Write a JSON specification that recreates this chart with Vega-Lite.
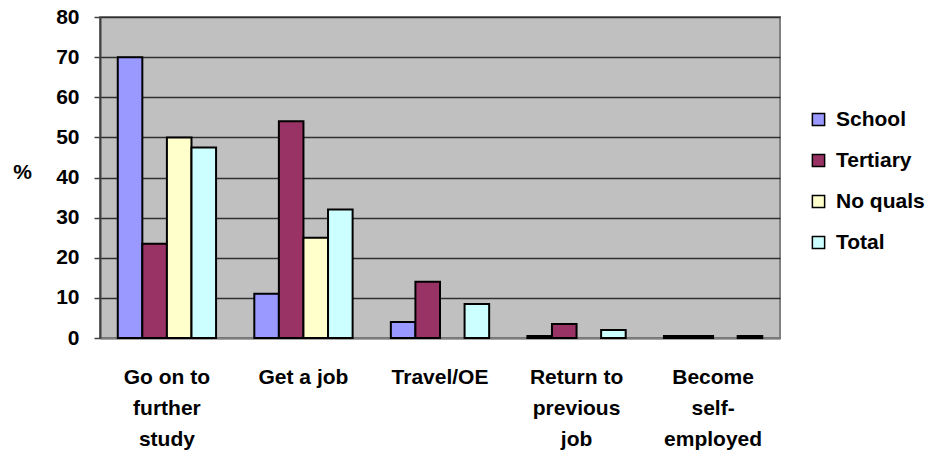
{
  "$schema": "https://vega.github.io/schema/vega-lite/v6.json",
  "autosize": "none",
  "width": 680,
  "height": 321,
  "padding": {"left": 100, "top": 17, "right": 158, "bottom": 115},
  "background": "white",
  "config": {
    "font": "Liberation Sans",
    "view": {"fill": "#C0C0C0", "stroke": "#808080", "strokeWidth": 2}
  },
  "data": {
    "values": [
      {"category": "Go on to further study", "group": "School", "value": 70},
      {"category": "Go on to further study", "group": "Tertiary", "value": 23.5},
      {"category": "Go on to further study", "group": "No quals", "value": 50},
      {"category": "Go on to further study", "group": "Total", "value": 47.5},
      {"category": "Get a job", "group": "School", "value": 11},
      {"category": "Get a job", "group": "Tertiary", "value": 54},
      {"category": "Get a job", "group": "No quals", "value": 25},
      {"category": "Get a job", "group": "Total", "value": 32},
      {"category": "Travel/OE", "group": "School", "value": 4},
      {"category": "Travel/OE", "group": "Tertiary", "value": 14},
      {"category": "Travel/OE", "group": "Total", "value": 8.5},
      {"category": "Return to previous job", "group": "School", "value": 0.5},
      {"category": "Return to previous job", "group": "Tertiary", "value": 3.5},
      {"category": "Return to previous job", "group": "Total", "value": 2},
      {"category": "Become self-employed", "group": "School", "value": 0.5},
      {"category": "Become self-employed", "group": "Tertiary", "value": 0.5},
      {"category": "Become self-employed", "group": "Total", "value": 0.5}
    ]
  },
  "mark": {"type": "bar", "stroke": "#000000", "strokeWidth": 2},
  "encoding": {
    "x": {
      "field": "category",
      "type": "nominal",
      "sort": ["Go on to further study", "Get a job", "Travel/OE", "Return to previous job", "Become self-employed"],
      "scale": {"paddingInner": 0.28, "paddingOuter": 0.13},
      "axis": {
        "title": null,
        "labelAngle": 0,
        "labelExpr": "datum.value == 'Go on to further study' ? ['Go on to', 'further', 'study'] : datum.value == 'Return to previous job' ? ['Return to', 'previous', 'job'] : datum.value == 'Become self-employed' ? ['Become', 'self-', 'employed'] : datum.value",
        "labelFont": "Liberation Sans",
        "labelFontSize": 21,
        "labelFontWeight": "bold",
        "labelColor": "#000000",
        "labelLineHeight": 31,
        "labelPadding": 28,
        "labelBaseline": "top",
        "ticks": false,
        "domainColor": "#808080",
        "domainWidth": 2
      }
    },
    "xOffset": {
      "field": "group",
      "type": "nominal",
      "sort": ["School", "Tertiary", "No quals", "Total"],
      "scale": {"paddingInner": 0, "paddingOuter": 0}
    },
    "y": {
      "field": "value",
      "type": "quantitative",
      "scale": {"domain": [0, 80], "nice": false},
      "axis": {
        "values": [0, 10, 20, 30, 40, 50, 60, 70, 80],
        "title": "%",
        "titleAngle": 0,
        "titleX": -78,
        "titleY": 155,
        "titleAlign": "center",
        "titleBaseline": "middle",
        "titleFont": "Liberation Sans",
        "titleFontSize": 21,
        "titleFontWeight": "bold",
        "titleColor": "#000000",
        "labelFont": "Liberation Sans",
        "labelFontSize": 21,
        "labelFontWeight": "bold",
        "labelColor": "#000000",
        "labelPadding": 15,
        "tickSize": 6,
        "tickColor": "#404040",
        "tickWidth": 1.5,
        "domainColor": "#404040",
        "domainWidth": 2,
        "grid": true,
        "gridColor": "#303030",
        "gridWidth": 1.5,
        "gridOpacity": 1
      }
    },
    "color": {
      "field": "group",
      "type": "nominal",
      "sort": ["School", "Tertiary", "No quals", "Total"],
      "scale": {
        "domain": ["School", "Tertiary", "No quals", "Total"],
        "range": ["#9999FF", "#993366", "#FFFFCC", "#CCFFFF"]
      },
      "legend": {
        "title": null,
        "orient": "none",
        "legendX": 708,
        "legendY": 92,
        "symbolType": "square",
        "symbolSize": 150,
        "symbolStrokeColor": "#000000",
        "symbolStrokeWidth": 1.5,
        "symbolOpacity": 1,
        "labelFont": "Liberation Sans",
        "labelFontSize": 21,
        "labelFontWeight": "bold",
        "labelColor": "#000000",
        "labelOffset": 7,
        "rowPadding": 19,
        "labelLimit": 200
      }
    }
  }
}
